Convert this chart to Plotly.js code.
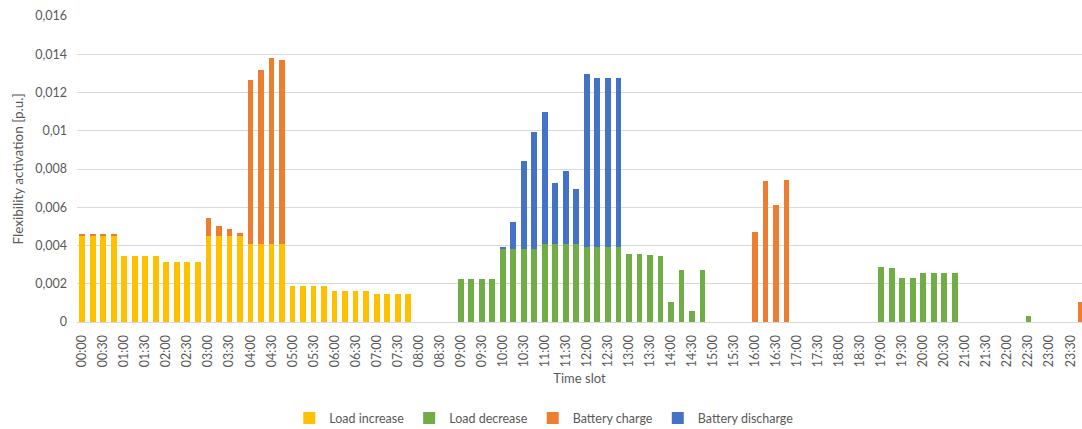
<!DOCTYPE html>
<html>
<head>
<meta charset="utf-8">
<script src="https://cdn.plot.ly/plotly-3.0.1.min.js"></script>
<style>html,body{margin:0;padding:0;background:#fff;}#chart{width:1082px;height:429px;}</style>
</head>
<body>
<div id="chart"></div>
<script>
const timeSlots = ["00:00","00:15","00:30","00:45","01:00","01:15","01:30","01:45","02:00","02:15","02:30","02:45",
"03:00","03:15","03:30","03:45","04:00","04:15","04:30","04:45","05:00","05:15","05:30","05:45",
"06:00","06:15","06:30","06:45","07:00","07:15","07:30","07:45","08:00","08:15","08:30","08:45",
"09:00","09:15","09:30","09:45","10:00","10:15","10:30","10:45","11:00","11:15","11:30","11:45",
"12:00","12:15","12:30","12:45","13:00","13:15","13:30","13:45","14:00","14:15","14:30","14:45",
"15:00","15:15","15:30","15:45","16:00","16:15","16:30","16:45","17:00","17:15","17:30","17:45",
"18:00","18:15","18:30","18:45","19:00","19:15","19:30","19:45","20:00","20:15","20:30","20:45",
"21:00","21:15","21:30","21:45","22:00","22:15","22:30","22:45","23:00","23:15","23:30","23:45"];

const tickLabels = ["00:00","00:30","01:00","01:30","02:00","02:30","03:00","03:30","04:00","04:30","05:00","05:30",
"06:00","06:30","07:00","07:30","08:00","08:30","09:00","09:30","10:00","10:30","11:00","11:30",
"12:00","12:30","13:00","13:30","14:00","14:30","15:00","15:30","16:00","16:30","17:00","17:30",
"18:00","18:30","19:00","19:30","20:00","20:30","21:00","21:30","22:00","22:30","23:00","23:30"];

const loadIncrease = [0.0045,0.0045,0.0045,0.0045,0.00345,0.00345,0.00345,0.00345,0.00313,0.00313,0.00313,0.00313,
0.0045,0.0045,0.0045,0.0045,0.00406,0.00406,0.00406,0.00406,0.00186,0.00186,0.00186,0.00186,
0.00162,0.00162,0.00162,0.00162,0.00144,0.00144,0.00144,0.00144,0,0,0,0,
0,0,0,0,0,0,0,0,0,0,0,0, 0,0,0,0,0,0,0,0,0,0,0,0, 0,0,0,0,0,0,0,0,0,0,0,0,
0,0,0,0,0,0,0,0,0,0,0,0, 0,0,0,0,0,0,0,0,0,0,0,0];

const loadDecrease = [0,0,0,0,0,0,0,0,0,0,0,0, 0,0,0,0,0,0,0,0,0,0,0,0, 0,0,0,0,0,0,0,0,0,0,0,0,
0.00224,0.00224,0.00224,0.00224,0.00383,0.00381,0.00381,0.00381,0.00406,0.00406,0.00406,0.00406,
0.0039,0.0039,0.0039,0.0039,0.00353,0.00353,0.00348,0.00345,0.00107,0.0027,0.00055,0.0027,
0,0,0,0,0,0,0,0,0,0,0,0, 0,0,0,0,0.00287,0.00284,0.00228,0.00228,0.00256,0.00256,0.00256,0.00256,
0,0,0,0,0,0,0.00032,0,0,0,0,0];

const batteryCharge = [0.0001,0.0001,0.0001,0.0001,0,0,0,0,0,0,0,0,
0.00092,0.0005,0.00038,0.00017,0.00857,0.00914,0.00977,0.00963,0,0,0,0,
0,0,0,0,0,0,0,0,0,0,0,0, 0,0,0,0,0,0,0,0,0,0,0,0, 0,0,0,0,0,0,0,0,0,0,0,0,
0,0,0,0,0.0047,0.00739,0.00614,0.00743,0,0,0,0, 0,0,0,0,0,0,0,0,0,0,0,0,
0,0,0,0,0,0,0,0,0,0,0,0.00107];

const batteryDischarge = [0,0,0,0,0,0,0,0,0,0,0,0, 0,0,0,0,0,0,0,0,0,0,0,0, 0,0,0,0,0,0,0,0,0,0,0,0,
0,0,0,0,0.00007,0.00144,0.00459,0.00613,0.00694,0.00323,0.00382,0.00291,
0.00908,0.00885,0.00885,0.00885,0,0,0,0,0,0,0,0,
0,0,0,0,0,0,0,0,0,0,0,0, 0,0,0,0,0,0,0,0,0,0,0,0, 0,0,0,0,0,0,0,0,0,0,0,0];

const yTickVals = [0,0.002,0.004,0.006,0.008,0.01,0.012,0.014,0.016];
const yTickText = ["0","0,002","0,004","0,006","0,008","0,01","0,012","0,014","0,016"];

const seriesNames = ["Load increase","Load decrease","Battery charge","Battery discharge"];
const seriesColors = ["#FFC000","#70AD47","#ED7D31","#4472C4"];
const seriesValues = [loadIncrease, loadDecrease, batteryCharge, batteryDischarge];

const traces = seriesValues.map((vals, i) => ({
  type: 'bar',
  name: seriesNames[i],
  x: timeSlots,
  y: vals,
  marker: {color: seriesColors[i], line: {width: 0}}
}));

const tickVals = timeSlots.filter(t => tickLabels.includes(t));

const layout = {
  width: 1082, height: 429,
  barmode: 'stack',
  bargap: 0.45,
  margin: {l: 77, r: 0, t: 16, b: 107},
  paper_bgcolor: '#ffffff',
  plot_bgcolor: '#ffffff',
  font: {family: 'Lato, "Open Sans", sans-serif', size: 12, color: '#595959'},
  showlegend: true,
  legend: {
    orientation: 'h', xref: 'container', yref: 'container',
    x: 0.503, xanchor: 'center', y: 0.025, yanchor: 'middle',
    font: {size: 12.5, color: '#595959'}, traceorder: 'normal', itemwidth: 30
  },
  xaxis: {
    type: 'category',
    range: [-0.5, 95.1],
    tickmode: 'array', tickvals: tickVals, ticktext: tickLabels,
    tickangle: -90,
    tickfont: {size: 12.5, color: '#595959'},
    ticklabelstandoff: 7,
    showgrid: false, showline: true, linecolor: '#D9D9D9', linewidth: 1,
    ticks: '', ticklen: 0,
    title: {text: 'Time slot', font: {size: 13, color: '#595959'}, standoff: 7}
  },
  yaxis: {
    range: [0, 0.016],
    tickmode: 'array', tickvals: yTickVals, ticktext: yTickText,
    tickfont: {size: 12.5, color: '#595959'},
    ticklabelstandoff: 9,
    gridcolor: '#D9D9D9', gridwidth: 1,
    zeroline: true, zerolinecolor: '#D9D9D9', zerolinewidth: 1,
    ticks: '', showline: false,
    title: {text: 'Flexibility activation [p.u.]', font: {size: 13.5, color: '#595959'}, standoff: 8}
  }
};

Plotly.newPlot('chart', traces, layout, {displayModeBar: false, staticPlot: true});
</script>
</body>
</html>
